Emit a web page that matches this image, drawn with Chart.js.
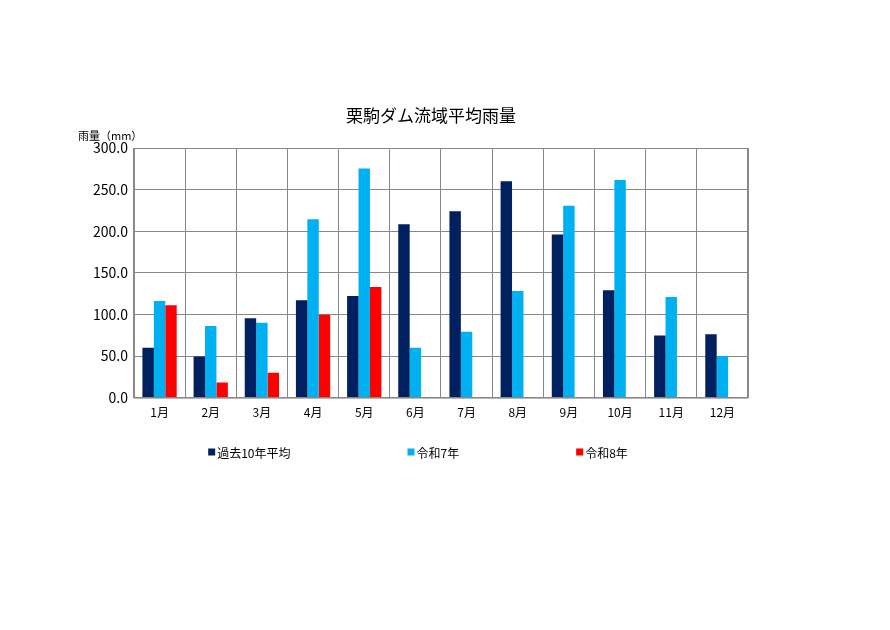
<!DOCTYPE html>
<html lang="ja">
<head>
    <meta charset="UTF-8">
    <title>栗駒ダム流域平均雨量</title>
    <style>
        html, body {
            margin: 0;
            padding: 0;
            background: #ffffff;
        }
        #wrap {
            width: 890px;
            height: 630px;
        }
    </style>
</head>
<body>
    <div id="wrap"><canvas id="rainChart"></canvas></div>

    <script src="https://cdn.jsdelivr.net/npm/chart.js@4.4.1/dist/chart.umd.min.js"></script>
    <script>
        const months = ['1月', '2月', '3月', '4月', '5月', '6月', '7月', '8月', '9月', '10月', '11月', '12月'];
        const avg10 = [60, 49.5, 95.5, 117, 122, 208.5, 224, 260, 196, 129, 74.5, 76];
        const reiwa7 = [116, 86, 90, 214.5, 275.5, 60, 79, 128, 230.5, 261.5, 121, 50];
        const reiwa8 = [111, 18, 30, 99.5, 133, null, null, null, null, null, null, null];
        const yTicks = [0, 50, 100, 150, 200, 250, 300];

        const chartTitle = '栗駒ダム流域平均雨量';
        const unitText = '雨量（mm）';
        const jpFont = "'Noto Sans CJK JP', 'Noto Sans', sans-serif";

        // タイトル・単位・凡例をまとめて描く（凡例は項目の間隔を広く取るため自前）
        const decorations = {
            id: 'decorations',
            afterDraw(chart) {
                const ctx = chart.ctx;
                const y = chart.scales.y;
                ctx.save();
                ctx.fillStyle = '#000';

                // タイトル
                ctx.font = "17px " + jpFont;
                ctx.textAlign = 'center';
                ctx.textBaseline = 'middle';
                ctx.fillText(chartTitle, 431, 116);

                // 縦軸の単位
                ctx.font = "11px " + jpFont;
                ctx.textAlign = 'left';
                ctx.textBaseline = 'bottom';
                ctx.fillText(unitText, 78, y.top - 7);

                // 凡例
                const gap = 117;
                const box = 7;
                ctx.font = "12px " + jpFont;
                ctx.textBaseline = 'middle';
                const items = chart.data.datasets.map(ds => ({
                    text: ds.label,
                    color: ds.backgroundColor,
                    w: box + 2 + ctx.measureText(ds.label).width
                }));
                const total = items.reduce((s, it) => s + it.w, 0) + gap * (items.length - 1);
                let x = 418 - total / 2;
                const ly = 452;
                items.forEach(it => {
                    ctx.fillStyle = it.color;
                    ctx.fillRect(x, ly - box / 2, box, box);
                    ctx.fillStyle = '#000';
                    ctx.fillText(it.text, x + box + 2, ly + 1);
                    x += it.w + gap;
                });
                ctx.restore();
            }
        };

        const frame = {
            id: 'frame',
            afterDatasetsDraw(chart) {
                const a = chart.chartArea;
                const ctx = chart.ctx;
                ctx.save();
                ctx.strokeStyle = '#888';
                ctx.lineWidth = 1;
                ctx.strokeRect(a.left + 0.5, a.top + 0.5, a.right - a.left - 1, a.bottom - a.top);
                ctx.restore();
            }
        };

        new Chart(document.getElementById('rainChart'), {
            type: 'bar',
            data: {
                labels: months,
                datasets: [
                    { label: '過去10年平均', data: avg10, backgroundColor: '#002060' },
                    { label: '令和7年', data: reiwa7, backgroundColor: '#00B0F0' },
                    { label: '令和8年', data: reiwa8, backgroundColor: '#FF0000' }
                ]
            },
            options: {
                responsive: true,
                maintainAspectRatio: false,
                animation: false,
                datasets: { bar: { categoryPercentage: 0.67, barPercentage: 1.0 } },
                layout: { padding: { left: 87, right: 142, top: 148, bottom: 202 } },
                plugins: {
                    title: { display: false },
                    legend: { display: false },
                    tooltip: { enabled: false }
                },
                scales: {
                    x: {
                        grid: { color: '#888', offset: true, drawTicks: false },
                        border: { color: '#888' },
                        ticks: {
                            color: '#000',
                            font: { family: jpFont, size: 12 },
                            padding: 8,
                            maxRotation: 0
                        }
                    },
                    y: {
                        min: 0,
                        max: 300,
                        afterBuildTicks(axis) {
                            axis.ticks = yTicks.map(v => ({ value: v }));
                        },
                        grid: { color: '#888', drawTicks: false },
                        border: { color: '#888' },
                        ticks: {
                            color: '#000',
                            font: { family: jpFont, size: 14 },
                            padding: 6,
                            callback: v => v.toFixed(1)
                        }
                    }
                }
            },
            plugins: [decorations, frame]
        });
    </script>
</body>
</html>
